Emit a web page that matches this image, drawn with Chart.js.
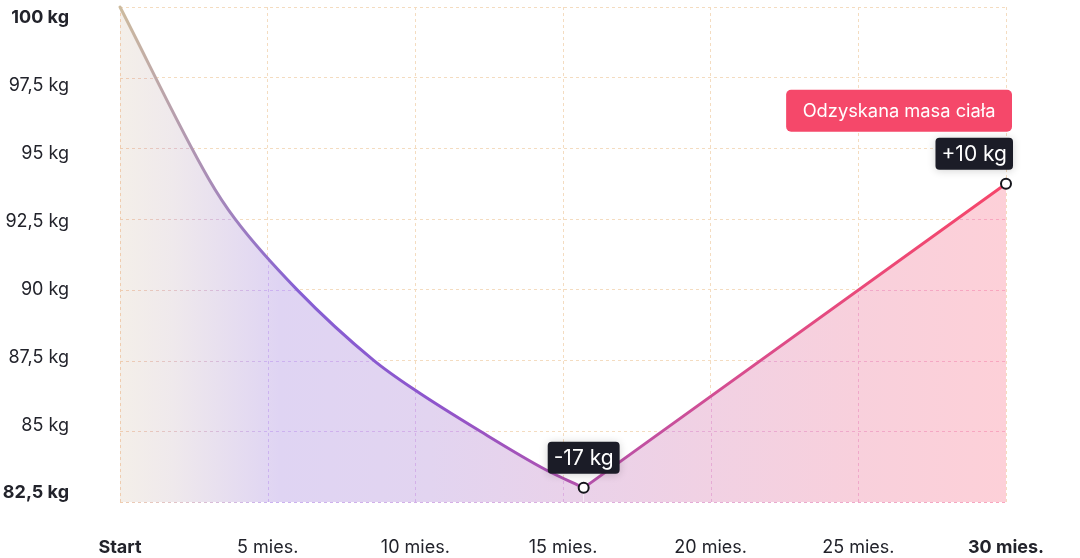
<!DOCTYPE html>
<html><head><meta charset="utf-8">
<script src="https://cdn.jsdelivr.net/npm/chart.js@4"></script>
<style>html,body{margin:0;padding:0;background:#fff;}#wrap{width:1080px;height:558px;position:relative}</style>
</head><body><div id="wrap"><canvas id="c" width="1080" height="558"></canvas></div>
<script>
// ---- data ----
const lossMonths    = [0, 3, 3.9, 6, 8.6, 10, 12.2, 14.4, 15.7];
const lossWeights   = [100, 93.93, 92.5, 90, 87.5, 86.45, 85, 83.65, 83.0];
const regainMonths  = [15.7, 30];
const regainWeights = [83.0, 93.75];
const xTicks = [0, 5, 10, 15, 20, 25, 30];
const xTickLabels = ['Start', '5 mies.', '10 mies.', '15 mies.', '20 mies.', '25 mies.', '30 mies.'];
const yTicks = [100, 97.5, 95, 92.5, 90, 87.5, 85, 82.5];
const yTickLabels = ['100 kg', '97,5 kg', '95 kg', '92,5 kg', '90 kg', '87,5 kg', '85 kg', '82,5 kg'];
const markedTexts = ['-17 kg', '+10 kg'];   // at the two points of the regain phase
const headline = 'Odzyskana masa ciała';

// ---- styling ----
const FONT = 'Inter, "Noto Sans", sans-serif';
const TEXT = '#22232b';
const lineStops = [[0,'#cdbb9e'],[0.1,'#a98db6'],[0.2,'#8660d3'],[0.35,'#8d55cd'],[0.52,'#b352ad'],[0.7,'#d84d8e'],[0.85,'#eb4978'],[1,'#f6466a']];
const fillStops = [[0,'#f4efe9'],[0.06,'#efe9ec'],[0.18,'#dfd4f3'],[0.35,'#e2d4f0'],[0.5,'#e9d2ea'],[0.67,'#f1d1e3'],[0.83,'#f8d0dc'],[1,'#fdd0d8']];
const gridInStops = [[0,'#efcdb0'],[0.17,'#cbb2f0'],[0.5,'#dcaee0'],[1,'#f9a6be']];
const GRID = '#f4dcc0';
const DASH = [3, 3];
const Y_MIN = 82.5, Y_MAX = 100;
// tick labels sit inset from the gridlines (top 11px, bottom 9px) over the 498px plot height
const PLOT_H = 498, LBL_TOP = 11, LBL_BOT = 9;
const kLbl = (PLOT_H - LBL_TOP - LBL_BOT) / (Y_MAX - Y_MIN);
const Y2_MAX = Y_MAX + LBL_TOP / kLbl, Y2_MIN = Y_MIN - LBL_BOT / kLbl;

function hGrad(ctx, a, stops){
  const g = ctx.createLinearGradient(a.left, 0, a.right, 0);
  stops.forEach(s => g.addColorStop(s[0], s[1]));
  return g;
}

const gridTint = {
  id: 'gridTint',
  beforeDatasetDraw(chart, args){
    const {ctx, chartArea: a, scales: {x, y}} = chart;
    const meta = args.meta;
    const pts = meta.data;
    ctx.save();
    ctx.beginPath();
    meta.dataset.path(ctx);
    ctx.lineTo(pts[pts.length-1].x, a.bottom + 1);
    ctx.lineTo(pts[0].x, a.bottom + 1);
    ctx.closePath();
    ctx.clip();
    ctx.strokeStyle = hGrad(ctx, a, gridInStops);
    ctx.lineWidth = 1;
    ctx.setLineDash(DASH);
    x.ticks.forEach((t, i) => {
      const px = Math.round(x.getPixelForTick(i)) + 0.5;
      ctx.beginPath(); ctx.moveTo(px, a.top); ctx.lineTo(px, a.bottom); ctx.stroke();
    });
    y.ticks.forEach((t, i) => {
      const py = Math.round(y.getPixelForTick(i)) + 0.5;
      ctx.beginPath(); ctx.moveTo(a.left, py); ctx.lineTo(a.right, py); ctx.stroke();
    });
    ctx.restore();
  }
};

const boxes = {
  id: 'boxes',
  afterDatasetsDraw(chart){
    const {ctx, chartArea: a} = chart;
    const pts = chart.getDatasetMeta(1).data;
    ctx.save();
    ctx.font = '400 21px ' + FONT;
    ctx.textAlign = 'center';
    ctx.textBaseline = 'middle';
    let last = null;
    pts.forEach((p, k) => {
      const txt = markedTexts[k];
      const w = ctx.measureText(txt).width + 12, h = 32;
      const cx = Math.min(p.x, a.right + 7 - w / 2);
      const bx = cx - w / 2, by = p.y - 14 - h;
      ctx.save();
      ctx.shadowColor = 'rgba(0,0,0,0.18)'; ctx.shadowBlur = 8; ctx.shadowOffsetY = 1;
      ctx.fillStyle = '#1b1c27';
      ctx.beginPath(); ctx.roundRect(bx, by, w, h, 4); ctx.fill();
      ctx.restore();
      ctx.fillStyle = '#ffffff';
      ctx.fillText(txt, cx, by + h / 2 + 1);
      last = {bx, by, w, h};
    });
    ctx.font = '400 18.3px ' + FONT;
    const hw = ctx.measureText(headline).width + 33, hh = 42;
    const hx = last.bx + last.w - 1 - hw, hy = last.by - 6 - hh;
    ctx.fillStyle = '#f5486a';
    ctx.beginPath(); ctx.roundRect(hx, hy, hw, hh, 5); ctx.fill();
    ctx.fillStyle = '#ffffff';
    ctx.fillText(headline, hx + hw / 2, hy + hh / 2 + 1);
    ctx.restore();
  }
};

const common = {
  borderWidth: 3,
  borderColor: c => c.chart.chartArea ? hGrad(c.chart.ctx, c.chart.chartArea, lineStops) : '#8a5cd0',
  backgroundColor: c => c.chart.chartArea ? hGrad(c.chart.ctx, c.chart.chartArea, fillStops) : '#e2d4f0',
  fill: 'start',
  clip: false,
  borderJoinStyle: 'round',
  borderCapStyle: 'round'
};

new Chart(document.getElementById('c'), {
  type: 'line',
  data: {
    datasets: [
      Object.assign({}, common, {
        order: 1,
        data: lossMonths.map((m, i) => ({x: m, y: lossWeights[i]})),
        cubicInterpolationMode: 'monotone',
        pointRadius: 0, pointHoverRadius: 0
      }),
      Object.assign({}, common, {
        order: 0,
        data: regainMonths.map((m, i) => ({x: m, y: regainWeights[i]})),
        tension: 0,
        pointRadius: 5, pointHoverRadius: 5,
        pointBackgroundColor: '#ffffff',
        pointBorderColor: '#15161c',
        pointBorderWidth: 2
      })
    ]
  },
  options: {
    responsive: false,
    animation: false,
    layout: {padding: {top: 4, right: 74, left: 0, bottom: 0}},
    plugins: {legend: {display: false}, tooltip: {enabled: false}},
    scales: {
      x: {
        type: 'linear', min: 0, max: 30,
        afterBuildTicks: s => { s.ticks = xTicks.map(v => ({value: v})); },
        afterFit: s => { s.height = 56; s.paddingLeft = 0; s.paddingRight = 0; },
        grid: {color: GRID, lineWidth: 1, drawTicks: false},
        border: {display: false, dash: DASH},
        ticks: {
          padding: 35, color: TEXT,
          callback: (v, i) => xTickLabels[i],
          font: c => ({family: FONT, size: 18, weight: (c.index === 0 || c.index === xTicks.length - 1) ? '700' : '400'})
        }
      },
      y: {
        min: Y_MIN, max: Y_MAX, weight: 0,
        afterBuildTicks: s => { s.ticks = yTicks.map(v => ({value: v})); },
        afterFit: s => { s.width = 0; s.paddingTop = 0; s.paddingBottom = 0; },
        grid: {color: GRID, lineWidth: 1, drawTicks: false},
        border: {display: false, dash: DASH},
        ticks: {display: false}
      },
      y2: {
        position: 'left', min: Y2_MIN, max: Y2_MAX, weight: 1,
        afterBuildTicks: s => { s.ticks = yTicks.map(v => ({value: v})); },
        afterFit: s => { s.width = 120; s.paddingTop = 0; s.paddingBottom = 0; },
        grid: {display: false, drawTicks: false},
        border: {display: false},
        ticks: {
          padding: 51, color: TEXT,
          callback: (v, i) => yTickLabels[i],
          font: c => ({family: FONT, size: 18, weight: (c.index === 0 || c.index === yTicks.length - 1) ? '700' : '400'})
        }
      }
    }
  },
  plugins: [gridTint, boxes]
});
</script></body></html>
